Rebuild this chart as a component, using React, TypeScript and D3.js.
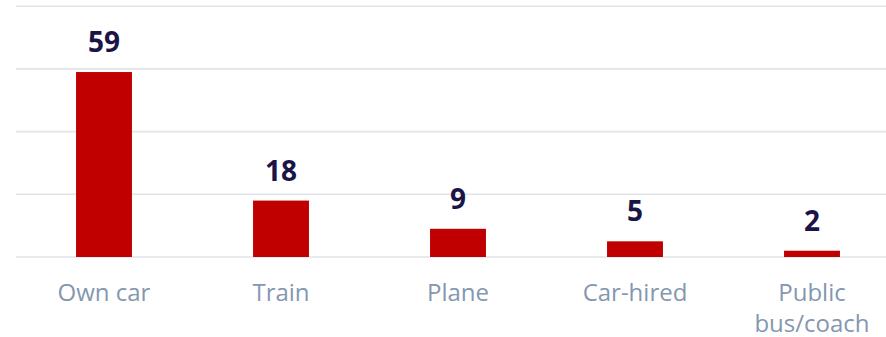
import React from "react";
import * as d3 from "d3";

const categories: string[][] = [["Own car"], ["Train"], ["Plane"], ["Car-hired"], ["Public", "bus/coach"]];
const values: number[] = [59, 18, 9, 5, 2];
const yTicks: number[] = [0, 20, 40, 60, 80];

const W = 886;
const H = 337;

export default function App() {
  const keys = categories.map((c) => c.join(" "));
  const x = d3
    .scaleBand<string>()
    .domain(keys)
    .range([15.5, 900.5])
    .paddingInner(0.684)
    .paddingOuter(0.342);
  const y = d3.scaleLinear().domain([0, 80]).range([257, 6.2]);

  return (
    <svg
      width={W}
      height={H}
      style={{ position: "absolute", left: 0, top: 0, background: "#fff" }}
    >
      {yTicks.map((t) => (
        <line
          key={t}
          x1={16}
          x2={W}
          y1={y(t)}
          y2={y(t)}
          stroke="#E1E4E9"
          strokeWidth={1.6}
        />
      ))}
      {values.map((v, i) => {
        const k = keys[i];
        const bx = x(k)!;
        const bw = x.bandwidth();
        return (
          <g key={k}>
            <rect x={bx} y={y(v)} width={bw} height={y(0) - y(v)} fill="#C00000" />
            <text
              x={bx + bw / 2}
              y={y(v) - 20}
              textAnchor="middle"
              fontFamily="'Open Sans', sans-serif"
              fontWeight={700}
              fontSize={28}
              fill="#1B1446"
            >
              {v}
            </text>
            {categories[i].map((line, j) => (
              <text
                key={j}
                x={bx + bw / 2}
                y={301 + j * 31}
                textAnchor="middle"
                fontFamily="'Open Sans', sans-serif"
                fontSize={24}
                fill="#8497B0"
              >
                {line}
              </text>
            ))}
          </g>
        );
      })}
    </svg>
  );
}
